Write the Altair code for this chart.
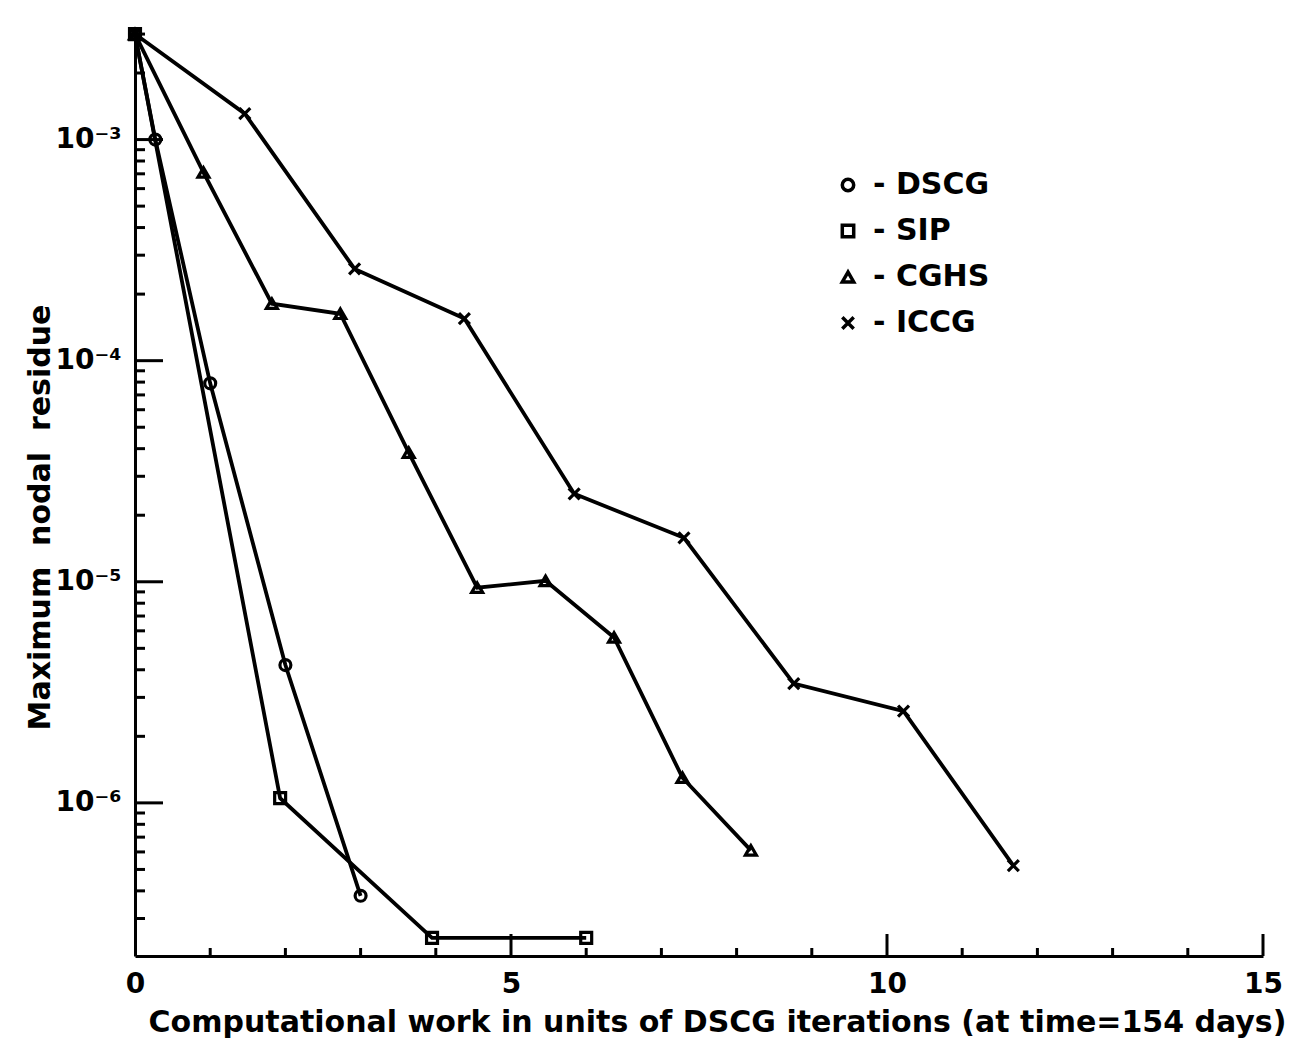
import altair as alt
import pandas as pd

# ---- data ----
series_names = ["DSCG", "SIP", "CGHS", "ICCG"]

dscg_x = [0, 0.27, 1.0, 2.0, 3.0]
dscg_y = [3.0e-3, 1.0e-3, 7.9e-5, 4.2e-6, 3.8e-7]

sip_x = [0, 1.93, 3.95, 6.0]
sip_y = [3.0e-3, 1.05e-6, 2.45e-7, 2.45e-7]

cghs_x = [0, 0.91, 1.82, 2.73, 3.64, 4.55, 5.46, 6.37, 7.28, 8.19]
cghs_y = [3.0e-3, 7.1e-4, 1.81e-4, 1.63e-4, 3.84e-5, 9.4e-6, 1.01e-5, 5.6e-6, 1.3e-6, 6.1e-7]

iccg_x = [0, 1.46, 2.92, 4.38, 5.84, 7.30, 8.76, 10.22, 11.68]
iccg_y = [3.0e-3, 1.31e-3, 2.6e-4, 1.55e-4, 2.5e-5, 1.58e-5, 3.46e-6, 2.6e-6, 5.2e-7]

x_major_ticks = [5, 10, 15]
x_minor_ticks = [1, 2, 3, 4, 6, 7, 8, 9, 11, 12, 13, 14]
x_labels = [0, 5, 10, 15]
y_major_ticks = [1e-3, 1e-4, 1e-5, 1e-6]
y_label_text = ["10⁻³", "10⁻⁴", "10⁻⁵", "10⁻⁶"]

x_title = "Computational work in units of DSCG iterations (at time=154 days)"
y_title = "Maximum\u00a0 nodal\u00a0 residue"

Y_MIN, Y_MAX = 2.03e-7, 3.13e-3
y_minor_ticks = [k * 10.0 ** e for e in range(-7, -2) for k in range(2, 10)
                 if Y_MIN < k * 10.0 ** e < Y_MAX]

rows = []
for name, xs, ys in [("DSCG", dscg_x, dscg_y), ("SIP", sip_x, sip_y),
                     ("CGHS", cghs_x, cghs_y), ("ICCG", iccg_x, iccg_y)]:
    for i, (a, b) in enumerate(zip(xs, ys)):
        rows.append({"method": name, "work": a, "residue": b, "order": i})
df = pd.DataFrame(rows)

W, H = 1128, 926
FONT = "DejaVu Sans"

xscale = alt.Scale(domain=[0, 15], nice=False, zero=False)
yscale = alt.Scale(type="log", domain=[Y_MIN, Y_MAX], nice=False)

label_expr = " : ".join(
    f"abs(log(datum.value)/log(10) - ({e})) < 0.01 ? '{t}'"
    for e, t in zip([-3, -4, -5, -6], y_label_text)
) + " : ''"

x_axis = alt.Axis(
    title=x_title,
    values=x_labels, format="d", ticks=False, grid=False,
    domainColor="black", domainWidth=3,
    labelFont=FONT, labelFontSize=28, labelFontWeight="bold", labelColor="black",
    labelPadding=14, labelFlush=False,
    titleFont=FONT, titleFontSize=30, titleFontWeight="bold", titleColor="black",
    titleX=582, titleY=66, titleBaseline="middle", titleAlign="center",
)
y_axis = alt.Axis(
    title=y_title,
    values=y_major_ticks, labelExpr=label_expr, ticks=False, grid=False,
    domainColor="black", domainWidth=3,
    labelFont=FONT, labelFontSize=28, labelFontWeight="bold", labelColor="black",
    labelPadding=14,
    titleFont=FONT, titleFontSize=30, titleFontWeight="bold", titleColor="black",
    titleX=-95, titleY=487, titleAngle=270, titleAlign="center", titleBaseline="middle",
)

shape_scale = alt.Scale(
    domain=series_names,
    range=["circle", "square", "triangle-up", "M-1,-1L1,1M-1,1L1,-1"],
)

lines = alt.Chart(df).mark_line(color="black", strokeWidth=3.8).encode(
    x=alt.X("work:Q", scale=xscale, axis=x_axis),
    y=alt.Y("residue:Q", scale=yscale, axis=y_axis),
    detail="method:N",
    order="order:Q",
)

points = alt.Chart(df).mark_point(
    color="black", filled=False, strokeWidth=3.2, size=120, opacity=1
).encode(
    x=alt.X("work:Q", scale=xscale, axis=x_axis),
    y=alt.Y("residue:Q", scale=yscale, axis=y_axis),
    shape=alt.Shape(
        "method:N", scale=shape_scale, sort=series_names,
        legend=alt.Legend(
            title=None, orient="none", legendX=698, legendY=140,
            labelFont=FONT, labelFontSize=30, labelFontWeight="bold",
            labelColor="black", labelExpr="'- ' + datum.label",
            symbolSize=130, symbolStrokeWidth=3.5, symbolStrokeColor="black",
            symbolFillColor="white", rowPadding=16, labelOffset=10,
        ),
    ),
)

ymaj = alt.Chart(pd.DataFrame({"v": y_major_ticks})).mark_rule(
    color="black", strokeWidth=3).encode(
    y=alt.Y("v:Q", scale=yscale, axis=y_axis), x=alt.value(0), x2=alt.value(28))
ymin = alt.Chart(pd.DataFrame({"v": y_minor_ticks})).mark_rule(
    color="black", strokeWidth=3).encode(
    y=alt.Y("v:Q", scale=yscale, axis=y_axis), x=alt.value(0), x2=alt.value(10))
xmaj = alt.Chart(pd.DataFrame({"v": x_major_ticks})).mark_rule(
    color="black", strokeWidth=3).encode(
    x=alt.X("v:Q", scale=xscale, axis=x_axis), y=alt.value(H), y2=alt.value(H - 22))
xmin = alt.Chart(pd.DataFrame({"v": x_minor_ticks})).mark_rule(
    color="black", strokeWidth=3).encode(
    x=alt.X("v:Q", scale=xscale, axis=x_axis), y=alt.value(H), y2=alt.value(H - 8))

chart = alt.layer(lines, points, ymaj, ymin, xmaj, xmin).properties(
    width=W, height=H,
    autosize=alt.AutoSizeParams(type="none"),
    padding={"left": 127, "top": 22, "right": 30, "bottom": 88},
    background="white",
).configure_view(stroke=None)

chart.save("out.html", embed_options={"renderer": "svg", "actions": False})
